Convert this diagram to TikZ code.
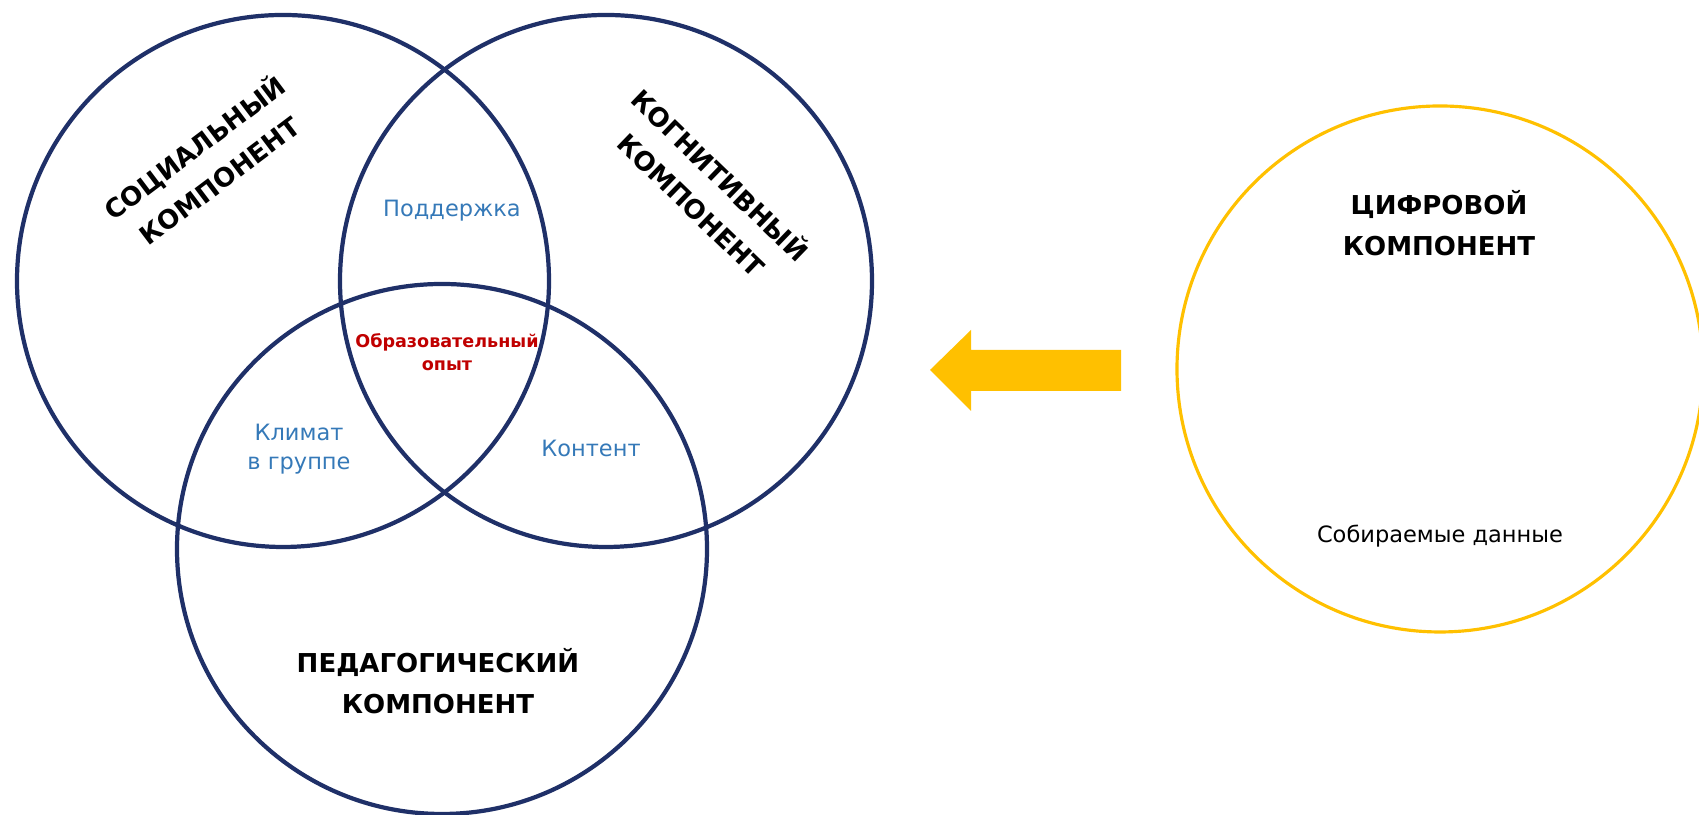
\documentclass[tikz,border=0pt]{standalone}
\usepackage{fontspec}
\setmainfont{DejaVu Sans}
\definecolor{navy}{HTML}{1F3068}
\definecolor{gold}{HTML}{FFC000}
\definecolor{lblue}{HTML}{3579B8}
\definecolor{dred}{HTML}{C00000}

\begin{document}
\begin{tikzpicture}[
  ring/.style={draw=navy, line width=1.2pt},
  big/.style={font=\bfseries\fontsize{7.4}{11.7}\selectfont, align=center},
  small/.style={text=lblue, font=\fontsize{6.4}{8.3}\selectfont, align=center}]
\useasboundingbox (0,0) rectangle (16.99,8.15);

\draw[ring] (2.83,5.34) circle (2.66);
\draw[ring] (6.06,5.34) circle (2.66);
\draw[ring] (4.42,2.66) circle (2.65);
\draw[gold, line width=0.9pt] (14.40,4.46) circle (2.63);

\node[big, rotate=37] (soc) at (2.06,6.52) {СОЦИАЛЬНЫЙ\\КОМПОНЕНТ};
\node[big, rotate=-44] (cog) at (7.07,6.26) {КОГНИТИВНЫЙ\\КОМПОНЕНТ};
\node[big] (ped) at (4.38,1.34) {ПЕДАГОГИЧЕСКИЙ\\КОМПОНЕНТ};
\node[big] (dig) at (14.39,5.92) {ЦИФРОВОЙ\\КОМПОНЕНТ};

\node[small] (sup) at (4.52,6.04) {Поддержка};
\node[small] (clim) at (2.99,3.66) {Климат\\в группе};
\node[small] (cont) at (5.91,3.67) {Контент};
\node[align=center, text=dred, font=\bfseries\fontsize{5}{6.5}\selectfont] (exp) at (4.47,4.63) {Образовательный\\опыт};
\node[font=\fontsize{6.4}{8.3}\selectfont] (data) at (14.40,2.79) {Собираемые данные};

% arrow from the digital part to the model
\fill[gold] (9.30,4.45) -- (9.71,4.85) -- (9.71,4.65) -- (11.21,4.65)
  -- (11.21,4.24) -- (9.71,4.24) -- (9.71,4.04) -- cycle;
\end{tikzpicture}
\end{document}
